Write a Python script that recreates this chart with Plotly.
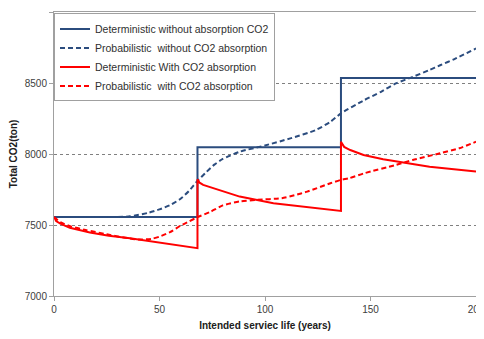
import plotly.graph_objects as go

# Deterministic without absorption (step)
det_no_x = [0, 68, 136, 200]
det_no_y = [7557, 8047, 8536, 8536]

# Probabilistic without absorption
prob_no_x = [0, 30, 36, 45, 50, 55, 60, 64, 68, 72, 76, 80, 88, 100, 112, 124, 131, 136, 147, 155, 162, 170, 178, 183, 190, 200]
prob_no_y = [7557, 7557, 7561, 7587, 7610, 7640, 7685, 7740, 7810, 7870, 7925, 7965, 8016, 8060, 8110, 8168, 8227, 8286, 8379, 8438, 8497, 8543, 8592, 8625, 8670, 8743]

# Deterministic with absorption
det_abs_x = [0, 1, 3, 7.5, 17, 26, 36, 50, 60, 68,
             68, 69, 70.7, 77, 88, 104, 120, 136,
             136, 137.5, 140.4, 146.7, 156, 167, 178, 200]
det_abs_y = [7557, 7528, 7510, 7480, 7447, 7425, 7407, 7378, 7358, 7337,
             7822, 7798, 7782, 7752, 7700, 7653, 7625, 7599,
             8086, 8050, 8028, 7993, 7963, 7939, 7911, 7876]

# Probabilistic with absorption
prob_abs_x = [0, 3, 8, 15, 25, 33, 40, 46, 50, 55, 60, 64, 68, 74, 80, 88, 96, 108, 114, 120, 131, 136, 140, 147, 162, 170, 183, 192, 200]
prob_abs_y = [7557, 7520, 7490, 7465, 7435, 7412, 7398, 7402, 7418, 7450, 7495, 7525, 7555, 7592, 7638, 7666, 7677, 7689, 7710, 7735, 7794, 7818, 7830, 7864, 7923, 7958, 8005, 8040, 8086]

names = ["Deterministic without absorption CO2",
         "Probabilistic  without CO2 absorption",
         "Deterministic With CO2 absorption",
         "Probabilistic  with CO2 absorption"]

x_ticks = [0, 50, 100, 150, 200]
y_ticks = [7000, 7500, 8000, 8500, 9000]

BLUE = "#2B4C7E"
RED = "#FF0000"

fig = go.Figure()
fig.add_trace(go.Scatter(x=det_no_x, y=det_no_y, mode="lines", name=names[0],
                         line=dict(color=BLUE, width=2, shape="hv")))
fig.add_trace(go.Scatter(x=prob_no_x, y=prob_no_y, mode="lines", name=names[1],
                         line=dict(color=BLUE, width=2, dash="5px,3px", shape="spline", smoothing=0.6)))
fig.add_trace(go.Scatter(x=det_abs_x, y=det_abs_y, mode="lines", name=names[2],
                         line=dict(color=RED, width=2)))
fig.add_trace(go.Scatter(x=prob_abs_x, y=prob_abs_y, mode="lines", name=names[3],
                         line=dict(color=RED, width=2, dash="5px,3px", shape="spline", smoothing=0.6)))

font_family = "Liberation Sans, Arial, sans-serif"

# The page body adds an 8px offset, so the figure is sized to fit the 484x339 window.
fig.update_layout(
    width=476, height=331,
    margin=dict(l=46, r=8, t=4, b=43, autoexpand=False),
    paper_bgcolor="white", plot_bgcolor="white",
    font=dict(family=font_family, size=10, color="#404040"),
    showlegend=True,
    legend=dict(x=0, y=0.995, xanchor="left", yanchor="top",
                bgcolor="white", bordercolor="#A0A0A0", borderwidth=1,
                font=dict(size=10.5, color="#303030"),
                tracegroupgap=0, itemwidth=30),
    xaxis=dict(range=[0, 200], tickvals=x_ticks, ticktext=[str(v) for v in x_ticks],
               showgrid=False, zeroline=False, automargin=True,
               ticklabeloverflow="allow",
               showline=True, linecolor="#A0A0A0", linewidth=1, mirror=True,
               ticks="outside", ticklen=4, tickcolor="#A0A0A0",
               title=dict(text="<b>Intended serviec life (years)</b>",
                          font=dict(size=10, color="#202020"), standoff=7)),
    yaxis=dict(range=[7000, 9000], tickvals=y_ticks, ticktext=[str(v) for v in y_ticks],
               showgrid=True, gridcolor="#808080", gridwidth=1, griddash="dot",
               zeroline=False, automargin=False,
               showline=True, linecolor="#A0A0A0", linewidth=1, mirror=True,
               ticks="outside", ticklen=4, tickcolor="#A0A0A0",
               title=dict(text="<b>Total CO2(ton)</b>",
                          font=dict(size=10, color="#202020"))),
)

fig.write_html("out.html")
